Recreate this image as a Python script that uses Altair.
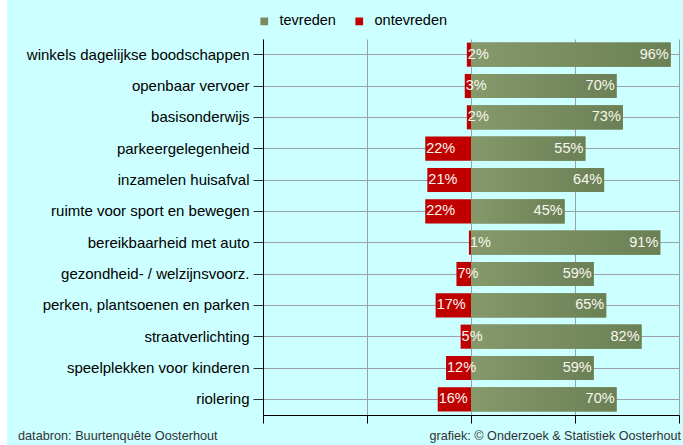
import altair as alt
import pandas as pd

categories = [
    "winkels dagelijkse boodschappen",
    "openbaar vervoer",
    "basisonderwijs",
    "parkeergelegenheid",
    "inzamelen huisafval",
    "ruimte voor sport en bewegen",
    "bereikbaarheid met auto",
    "gezondheid- / welzijnsvoorz.",
    "perken, plantsoenen en parken",
    "straatverlichting",
    "speelplekken voor kinderen",
    "riolering",
]
tevreden = [96, 70, 73, 55, 64, 45, 91, 59, 65, 82, 59, 70]
ontevreden = [2, 3, 2, 22, 21, 22, 1, 7, 17, 5, 12, 16]
series = ["tevreden", "ontevreden"]
footer_left = "databron: Buurtenquête Oosterhout"
footer_right = "grafiek: © Onderzoek & Statistiek Oosterhout"

rows = []
for c, t, o in zip(categories, tevreden, ontevreden):
    rows.append({"cat": c, "serie": "tevreden", "start": 0, "end": t, "label": f"{t}%"})
    rows.append({"cat": c, "serie": "ontevreden", "start": -o, "end": 0, "label": f"{o}%"})
df = pd.DataFrame(rows)

FONT = "Arial, Liberation Sans, sans-serif"
GREEN = "#7a8c5e"
RED = "#c00000"

xscale = alt.Scale(domain=[-100, 100], nice=False)
yenc = alt.Y("cat:N", sort=categories, title=None,
             scale=alt.Scale(paddingInner=0.23, paddingOuter=0.115),
             axis=alt.Axis(labelFontSize=15, labelColor="black", labelFont=FONT,
                           domainColor="black", tickColor="#333333", tickSize=10,
                           labelPadding=4, grid=True, gridColor="#9aa3a8",
                           labelLimit=400))
xaxis = alt.Axis(labels=False, title=None, values=[-100, -50, 0, 50, 100],
                 domainColor="black", tickColor="black", tickSize=8,
                 grid=True, gridColor="#9aa3a8")

base = alt.Chart(df)

bars = base.mark_bar().encode(
    x=alt.X("start:Q", scale=xscale, axis=xaxis),
    x2="end:Q",
    y=yenc,
    color=alt.Color("serie:N", scale=alt.Scale(domain=series, range=[GREEN, RED]),
                    legend=alt.Legend(title=None, orient="none", direction="horizontal",
                                      legendX=-6, legendY=-25, symbolType="square",
                                      symbolSize=60, labelFontSize=14.5, labelFont=FONT,
                                      labelColor="black", columnPadding=16,
                                      labelOffset=8, symbolStrokeWidth=0)),
)

grad = base.transform_filter(alt.datum.serie == "tevreden").mark_bar(
    color=alt.Gradient(gradient="linear",
                       stops=[alt.GradientStop(color="#85996b", offset=0),
                              alt.GradientStop(color="#6c8056", offset=1)],
                       x1=0, x2=1, y1=0, y2=0)
).encode(x=alt.X("start:Q", scale=xscale), x2="end:Q", y=alt.Y("cat:N", sort=categories))

red_labels = base.transform_filter(alt.datum.serie == "ontevreden").mark_text(
    align="left", baseline="middle", dx=1, fontSize=14.5, font=FONT, color="#f8f8f0"
).encode(x=alt.X("start:Q", scale=xscale), y=alt.Y("cat:N", sort=categories), text="label:N")

green_labels = base.transform_filter(alt.datum.serie == "tevreden").mark_text(
    align="right", baseline="middle", dx=-2, fontSize=14.5, font=FONT, color="#f8f8f0"
).encode(x=alt.X("end:Q", scale=xscale), y=alt.Y("cat:N", sort=categories), text="label:N")

foot = pd.DataFrame({"t": [footer_left, footer_right]})
fl = alt.Chart(foot.iloc[[0]]).mark_text(
    align="left", baseline="alphabetic", fontSize=12.7, font=FONT, color="#333333"
).encode(x=alt.value(-245), y=alt.value(401), text="t:N")
fr = alt.Chart(foot.iloc[[1]]).mark_text(
    align="right", baseline="alphabetic", fontSize=12.6, font=FONT, color="#333333"
).encode(x=alt.value(418), y=alt.value(401), text="t:N")

edge = alt.Chart(foot.iloc[[0]]).mark_rect(color="white").encode(
    x=alt.value(-263), x2=alt.value(-256), y=alt.value(-40), y2=alt.value(410))

chart = alt.layer(edge, bars, grad, red_labels, green_labels, fl, fr).properties(
    width=416, height=376,
    background="#ccffff",
    autosize=alt.AutoSizeParams(type="none"),
    padding={"left": 263, "top": 39, "right": 4, "bottom": 30},
).configure_view(stroke=None)

chart.save("out.html", embed_options={"renderer": "svg", "actions": False})
